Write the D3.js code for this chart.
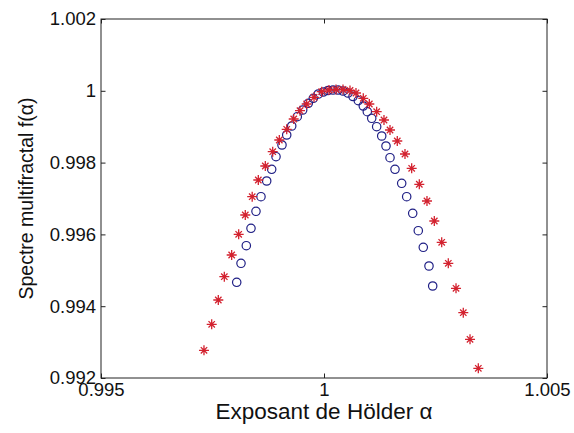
<!DOCTYPE html>
<html><head><meta charset="utf-8">
<script src="https://cdn.jsdelivr.net/npm/d3@7"></script>
<style>body{margin:0;background:#fff}svg{display:block}text{font-family:"Liberation Sans",Arial,sans-serif;fill:#111}</style>
</head><body>
<svg id="c" width="574" height="433"></svg>
<script>
const xTicks = [0.995, 1, 1.005];
const yTicks = [0.992, 0.994, 0.996, 0.998, 1, 1.002];
const alphaCircles = [0.998043,0.998139,0.998258,0.998363,0.998475,0.998587,0.998715,0.998827,0.998924,0.999058,0.999164,0.999276,0.999401,0.999522,0.999648,0.999760,0.999872,0.999984,1.000090,1.000202,1.000314,1.000426,1.000538,1.000650,1.000769,1.000881,1.000971,1.001070,1.001181,1.001294,1.001390,1.001480,1.001592,1.001742,1.001854,1.001989,1.002114,1.002226,1.002354,1.002437];
const fCircles = [0.994666,0.995195,0.995685,0.996170,0.996643,0.997050,0.997487,0.997813,0.998164,0.998490,0.998769,0.999019,0.999279,0.999465,0.999652,0.999791,0.999911,0.999967,1.000008,1.000022,1.000022,0.999994,0.999939,0.999841,0.999724,0.999577,0.999418,0.999234,0.999000,0.998741,0.998462,0.998136,0.997813,0.997423,0.997050,0.996588,0.996103,0.995641,0.995120,0.994563];
const alphaStars = [0.997309,0.997482,0.997630,0.997765,0.997930,0.998087,0.998235,0.998390,0.998527,0.998684,0.998850,0.998998,0.999164,0.999321,0.999462,0.999612,0.999776,0.999948,1.000112,1.000269,1.000426,1.000583,1.000717,1.000881,1.001016,1.001181,1.001345,1.001480,1.001643,1.001816,1.001966,1.002137,1.002309,1.002473,1.002639,1.002787,1.002960,1.003123,1.003274,1.003460];
const fStars = [0.992772,0.993496,0.994173,0.994822,0.995426,0.996003,0.996540,0.997050,0.997515,0.997905,0.998304,0.998630,0.998928,0.999214,0.999446,0.999632,0.999819,0.999975,1.000022,1.000036,1.000036,1.000008,0.999939,0.999791,0.999632,0.999418,0.999187,0.998908,0.998602,0.998240,0.997841,0.997396,0.996930,0.996373,0.995780,0.995195,0.994499,0.993819,0.993078,0.992270];

const L = 101, R = 547, T = 19, B = 378;
const svg = d3.select("#c");
const x = d3.scaleLinear().domain([0.995, 1.005]).range([L, R]);
const y = d3.scaleLinear().domain([0.992, 1.002]).range([B, T]);
const fmt = d => d3.format("")(+d.toFixed(3));
const tl = 4.5;

const axB = d3.axisBottom(x).tickValues(xTicks).tickSizeInner(-tl).tickSizeOuter(0).tickPadding(5).tickFormat(fmt);
const axT = d3.axisTop(x).tickValues(xTicks).tickSizeInner(-tl).tickSizeOuter(0).tickFormat("");
const axL = d3.axisLeft(y).tickValues(yTicks).tickSizeInner(-tl).tickSizeOuter(0).tickPadding(5).tickFormat(fmt);
const axR = d3.axisRight(y).tickValues(yTicks).tickSizeInner(-tl).tickSizeOuter(0).tickFormat("");
function style(g){ g.select(".domain").remove(); g.selectAll("line").attr("stroke","#222"); g.selectAll("text").attr("font-size",18.5).attr("fill","#111").attr("font-family","Liberation Sans, Arial, sans-serif"); }
svg.append("g").attr("transform",`translate(0,${B})`).call(axB).call(style);
svg.append("g").attr("transform",`translate(0,${T})`).call(axT).call(style);
svg.append("g").attr("transform",`translate(${L},0)`).call(axL).call(style);
svg.append("g").attr("transform",`translate(${R},0)`).call(axR).call(style);
svg.append("rect").attr("x",L).attr("y",T).attr("width",R-L).attr("height",B-T).attr("fill","none").attr("stroke","#222").attr("stroke-width",1);

svg.append("g").selectAll("circle").data(alphaCircles).join("circle")
  .attr("cx",(d)=>x(d)).attr("cy",(d,i)=>y(fCircles[i])).attr("r",4.2)
  .attr("fill","none").attr("stroke","#1f1f85").attr("stroke-width",1.2);

const star = "M-5,0L5,0M0,-5L0,5M-3.2,-3.2L3.2,3.2M-3.2,3.2L3.2,-3.2";
svg.append("g").selectAll("path").data(alphaStars).join("path")
  .attr("transform",(d,i)=>`translate(${x(d)},${y(fStars[i])})`).attr("d",star)
  .attr("fill","none").attr("stroke","#d3222f").attr("stroke-width",1.3);

svg.append("text").attr("x",(L+R)/2).attr("y",419).attr("text-anchor","middle").attr("font-size",22.5).text("Exposant de Hölder α");
svg.append("text").attr("transform",`translate(33,${(T+B)/2}) rotate(-90)`).attr("text-anchor","middle").attr("font-size",19.5).text("Spectre multifractal f(α)");
</script>
</body></html>
